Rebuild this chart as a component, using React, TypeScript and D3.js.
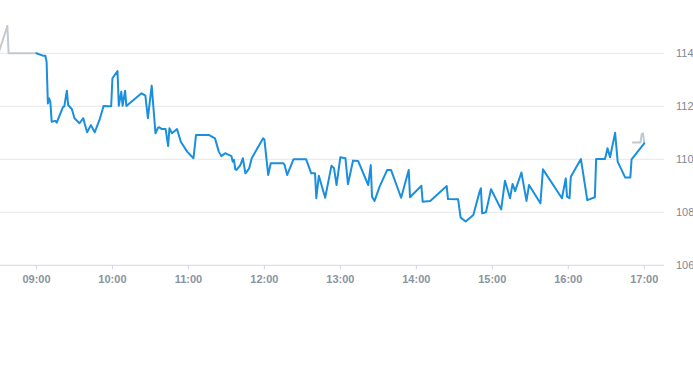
import React from "react";
import * as d3 from "d3";

const mainTimes = [
  "09:00","09:05","09:07","09:08","09:09","09:10","09:11","09:12","09:15","09:16",
  "09:21","09:22","09:24","09:25","09:28","09:30","09:34","09:37","09:38","09:40",
  "09:43","09:46","09:50","09:53","09:57","09:59","10:00","10:04","10:05","10:07",
  "10:08","10:10","10:11","10:23","10:26","10:28","10:31","10:34","10:36","10:37",
  "10:39","10:42","10:44","10:45","10:47","10:51","10:54","10:59","11:04","11:06",
  "11:16","11:21","11:24","11:26","11:29","11:34","11:35","11:36","11:37","11:38",
  "11:41","11:43","11:45","11:48","11:50","11:59","12:00","12:03","12:05","12:15",
  "12:16","12:18","12:23","12:33","12:37","12:40","12:41","12:43","12:48","12:53",
  "12:55","12:57","13:00","13:04","13:06","13:10","13:14","13:22","13:24","13:25",
  "13:27","13:31","13:37","13:40","13:48","13:54","13:55","14:04","14:05","14:11",
  "14:24","14:25","14:33","14:35","14:39","14:45","14:50","14:51","14:52","14:55",
  "14:59","15:07","15:10","15:14","15:16","15:18","15:23","15:27","15:29","15:38",
  "15:40","15:55","15:58","15:59","16:01","16:02","16:10","16:15","16:21","16:22",
  "16:29","16:31","16:33","16:37","16:39","16:45","16:49","16:50","17:00"
];
const mainValues = [
  114.0,113.91,113.91,113.68,112.11,112.3,112.15,111.42,111.45,111.38,
  111.98,112.0,112.59,112.05,111.89,111.55,111.36,111.55,111.36,111.02,
  111.29,111.02,111.52,112.01,112.0,112.0,113.06,113.33,112.02,112.55,
  112.02,112.59,112.01,112.49,112.4,111.55,112.78,110.98,111.19,111.21,
  111.14,111.14,110.5,111.17,110.98,111.14,110.66,110.29,110.04,110.92,
  110.92,110.79,110.29,110.12,110.23,110.12,109.91,109.98,109.62,109.6,
  109.78,110.04,109.47,109.66,110.04,110.79,110.75,109.41,109.85,109.85,
  109.78,109.41,110.0,110.0,109.47,109.47,108.53,109.38,108.55,109.76,
  109.66,109.03,110.08,110.04,109.06,109.95,109.94,109.03,109.78,108.59,
  108.43,108.97,109.6,109.6,108.55,109.6,108.57,109.0,108.4,108.43,
  108.99,108.5,108.49,107.8,107.65,107.9,108.78,108.91,107.96,108.0,
  108.87,108.11,109.19,108.53,109.07,108.8,109.5,108.43,109.03,108.34,
  109.62,108.53,109.28,108.59,108.53,109.34,110.01,108.46,108.57,110.01,
  110.01,110.42,110.08,111.0,109.91,109.31,109.31,110.0,110.6
];

const preTimes = ["08:30","08:37","08:38","09:00"];
const preValues = [114.0, 115.03, 114.0, 114.0];

const postTimes = ["16:51","16:57","16:58","16:59","17:00"];
const postValues = [110.63, 110.63, 110.95, 110.98, 110.62];

const xTickLabels = ["09:00","10:00","11:00","12:00","13:00","14:00","15:00","16:00","17:00"];
const yTickValues = [106, 108, 110, 112, 114];

const W = 693;
const H = 365;
const plotLeft = 0;
const plotRight = 664;
const plotTop = 53.3;
const plotBottom = 265.3;

const toMin = (s: string) => {
  const [h, m] = s.split(":").map(Number);
  return h * 60 + m;
};

export default function App() {
  const x = d3
    .scaleLinear()
    .domain([toMin("08:31") + 0.2, toMin("17:15") + 0.6])
    .range([plotLeft, plotRight]);
  const y = d3.scaleLinear().domain([106, 114]).range([plotBottom, plotTop]);

  const line = d3
    .line<[number, number]>()
    .x((d) => x(d[0]))
    .y((d) => y(d[1]));

  const mk = (ts: string[], vs: number[]) =>
    ts.map((t, i) => [toMin(t), vs[i]] as [number, number]);

  const font = "'Liberation Sans', Arial, sans-serif";

  return (
    <svg
      width={W}
      height={H}
      style={{ position: "absolute", left: 0, top: 0, background: "#fff" }}
    >
      <defs>
        <clipPath id="plot">
          <rect x={plotLeft} y={0} width={plotRight - plotLeft} height={plotBottom} />
        </clipPath>
      </defs>
      {yTickValues
        .filter((v) => v !== 106)
        .map((v) => (
          <line
            key={v}
            x1={plotLeft}
            x2={plotRight}
            y1={y(v)}
            y2={y(v)}
            stroke="#e6e6e6"
            strokeWidth={1}
          />
        ))}
      <line
        x1={plotLeft}
        x2={plotRight}
        y1={plotBottom}
        y2={plotBottom}
        stroke="#ccd6eb"
        strokeWidth={1}
      />
      {xTickLabels.map((t) => (
        <g key={t}>
          <line
            x1={x(toMin(t))}
            x2={x(toMin(t))}
            y1={plotBottom}
            y2={plotBottom + 4}
            stroke="#ccd6eb"
          />
          <text
            x={x(toMin(t))}
            y={plotBottom + 18}
            textAnchor="middle"
            fontFamily={font}
            fontSize={11}
            fontWeight="bold"
            fill="#8a93a1"
          >
            {t}
          </text>
        </g>
      ))}
      {yTickValues.map((v) => (
        <text
          key={v}
          x={676}
          y={y(v) + 4}
          fontFamily={font}
          fontSize={11}
          fill="#7f8794"
        >
          {v}
        </text>
      ))}
      <g clipPath="url(#plot)" fill="none" strokeLinejoin="round" strokeLinecap="round">
        <path d={line(mk(preTimes, preValues)) || ""} stroke="#c3c9d1" strokeWidth={2} />
        <path d={line(mk(postTimes, postValues)) || ""} stroke="#c3c9d1" strokeWidth={2} />
        <path d={line(mk(mainTimes, mainValues)) || ""} stroke="#1a8fdd" strokeWidth={2} />
      </g>
    </svg>
  );
}
